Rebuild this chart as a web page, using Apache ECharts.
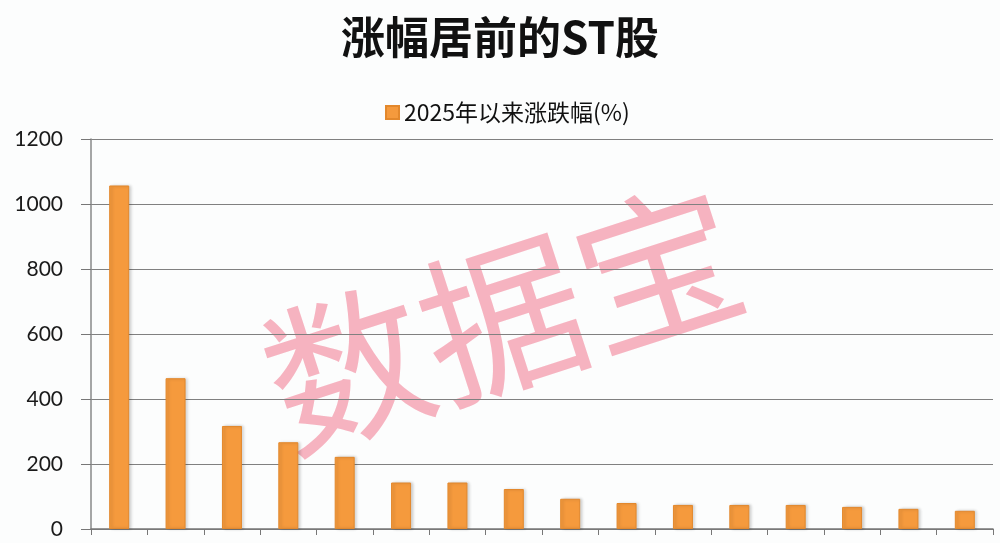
<!DOCTYPE html>
<html lang="zh">
<head>
    <meta charset="UTF-8">
    <title>涨幅居前的ST股</title>
    <script src="https://cdn.jsdelivr.net/npm/echarts@6/dist/echarts.min.js"></script>
    <style>
        body { margin: 0; padding: 0; background: #fcfdfd; }
        #main { width: 1000px; height: 543px; }
    </style>
</head>
<body>
<div id="main"></div>
<script type="text/javascript">
    // 排名（图中没有显示类目名）
    var ranks = ['1', '2', '3', '4', '5', '6', '7', '8', '9', '10', '11', '12', '13', '14', '15', '16'];
    // 2025年以来涨跌幅(%)
    var changes = [1057, 464, 317, 267, 222, 143, 143, 123, 93, 80, 74, 74, 74, 68, 62, 56];
    var yTicks = [0, 200, 400, 600, 800, 1000, 1200];
    var seriesName = '2025年以来涨跌幅(%)';

    var myChart = echarts.init(document.getElementById('main'));

    var option = {
        backgroundColor: '#fcfdfd',
        animation: false,
        title: {
            text: '涨幅居前的ST股',
            left: 'center',
            top: 10,
            textStyle: {
                fontFamily: 'Noto Sans CJK SC',
                fontSize: 44,
                fontWeight: 'bold',
                color: '#111'
            }
        },
        legend: {
            data: [seriesName],
            left: 380,
            top: 96,
            icon: 'rect',
            itemWidth: 13,
            itemHeight: 13,
            textStyle: {
                fontFamily: 'Noto Sans CJK SC',
                fontSize: 23,
                color: '#111'
            }
        },
        // 水印
        graphic: [{
            type: 'text',
            left: 245,
            top: 165,
            z: 0,
            rotation: 18 * Math.PI / 180,
            style: {
                text: '数据宝',
                fontFamily: 'Noto Sans CJK SC',
                fontWeight: 'normal',
                fontSize: 163,
                fill: 'rgba(243, 140, 160, 0.65)'
            }
        }],
        grid: {
            left: 91,
            right: 7,
            top: 139,
            bottom: 14
        },
        xAxis: {
            type: 'category',
            data: ranks,
            boundaryGap: true,
            axisLine: { lineStyle: { color: '#777', width: 1.5 } },
            axisTick: { show: true, inside: false, length: 6, lineStyle: { color: '#777' } },
            axisLabel: { show: false }
        },
        yAxis: {
            type: 'value',
            min: yTicks[0],
            max: yTicks[yTicks.length - 1],
            interval: 200,
            axisLine: { show: true, lineStyle: { color: '#888', width: 1.5 } },
            axisTick: { show: true, length: 10, lineStyle: { color: '#777' } },
            splitLine: { lineStyle: { color: '#808080', width: 1 } },
            axisLabel: {
                margin: 28,
                fontFamily: 'Lato',
                fontSize: 21,
                color: '#1a1a1a',
                formatter: function (v) { return String(v); }
            }
        },
        series: [{
            name: seriesName,
            type: 'bar',
            z: 3,
            barWidth: 20,
            data: changes,
            itemStyle: {
                color: '#f59a3d',
                borderColor: '#e3882c',
                borderWidth: 1,
                shadowColor: 'rgba(0,0,0,0.18)',
                shadowBlur: 3,
                shadowOffsetX: 2
            }
        }]
    };

    myChart.setOption(option);
</script>
</body>
</html>
